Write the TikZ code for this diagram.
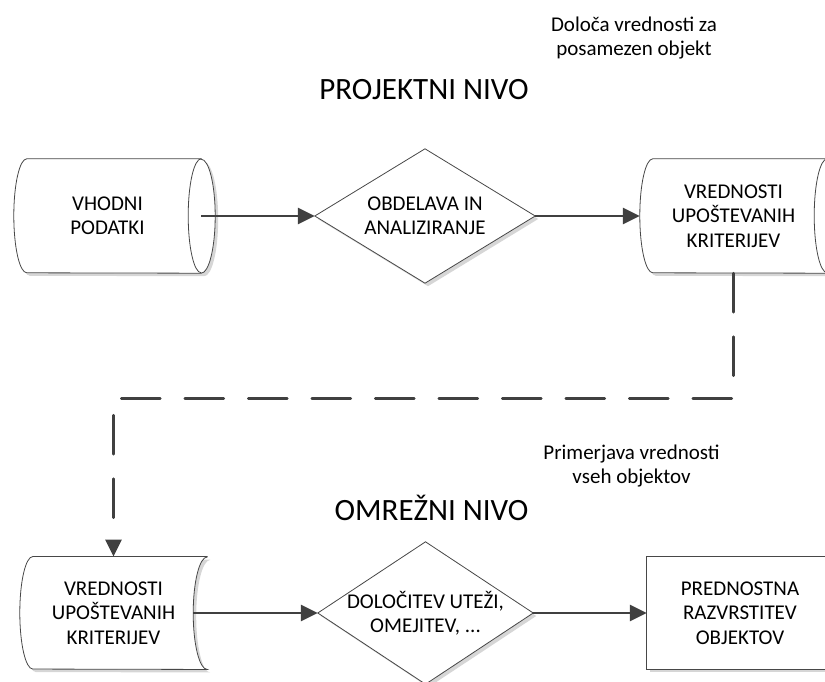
\documentclass[tikz,border=0pt]{standalone}
\usepackage{fontspec}
\setmainfont{Carlito}
\usetikzlibrary{arrows.meta,calc}
\pgfdeclarelayer{bg}
\pgfsetlayers{bg,main}

% outline of a horizontal drum (direct access storage)
\newcommand\drumoutline[1]{(#1.north east) -- ([xshift=13pt]#1.north west)
  arc[start angle=90,end angle=270,x radius=13pt,y radius=57pt]
  -- (#1.south east)
  arc[start angle=-90,end angle=90,x radius=14pt,y radius=57pt] -- cycle}
% inner rim of the drum's right end
\newcommand\drumrim[1]{(#1.north east)
  arc[start angle=90,end angle=270,x radius=13pt,y radius=57pt]}
% outline of a stored-data block
\newcommand\storedoutline[1]{(#1.north east) -- ([xshift=13pt]#1.north west)
  arc[start angle=90,end angle=270,x radius=13pt,y radius=56.25pt]
  -- (#1.south east)
  arc[start angle=270,end angle=90,x radius=14pt,y radius=56.25pt] -- cycle}
% outline of a decision diamond
\newcommand\diamondoutline[1]{(#1.west) -- (#1.north) -- (#1.east) -- (#1.south) -- cycle}

\tikzset{
  boxtext/.style={draw=none, inner sep=0pt, align=center,
    font=\fontsize{21pt}{24.5pt}\selectfont, text=black},
  drumnode/.style={boxtext, minimum width=187pt, minimum height=114pt},
  shapeline/.style={draw=black!72, line width=0.8pt, fill=white},
  shadowfill/.style={fill=black!16, draw=none,
    transform canvas={xshift=3pt, yshift=-3pt}},
  flowarrow/.style={draw=black!75, line width=2.6pt,
    -{Triangle[length=17pt,width=16pt]}},
  linkdash/.style={flowarrow, line cap=round, dash pattern=on 39pt off 24.5pt},
  notetext/.style={align=center, inner sep=0pt,
    font=\fontsize{21pt}{23.5pt}\selectfont},
  titletext/.style={inner sep=0pt, anchor=base,
    font=\fontsize{31pt}{36pt}\selectfont},
}

\begin{document}
\begin{tikzpicture}[x=1pt,y=-1pt]
\useasboundingbox (0,0) rectangle (825,682);
\clip (0,0) rectangle (825,682);

% headings and remarks
\node[notetext] (noteA) at (634,38) {Določa vrednosti za\\posamezen objekt};
\node[titletext] (projekt) at (424,100) {PROJEKTNI NIVO};
\node[notetext] (noteB) at (631.5,466) {Primerjava vrednosti\\vseh objektov};
\node[titletext] (omrezje) at (431.5,520) {OMREŽNI NIVO};

% project level
\node[drumnode] (vin) at (107.5,216) {VHODNI\\PODATKI};
\node[boxtext, minimum width=220pt, minimum height=134pt] (d1) at (425,216)
  {OBDELAVA IN\\ANALIZIRANJE};
\node[drumnode] (kr1) at (733.5,216) {VREDNOSTI\\UPOŠTEVANIH\\KRITERIJEV};

% network level
\node[boxtext, minimum width=187pt, minimum height=112.5pt] (kr2) at (113.5,613)
  {VREDNOSTI\\UPOŠTEVANIH\\KRITERIJEV};
\node[boxtext, minimum width=215pt, minimum height=142pt] (d2) at (425.5,613)
  {DOLOČITEV UTEŽI,\\OMEJITEV, ...};
\node[boxtext, minimum width=186pt, minimum height=112pt] (rank) at (740,613)
  {PREDNOSTNA\\RAZVRSTITEV\\OBJEKTOV};

% shapes behind the labels
\begin{pgfonlayer}{bg}
  \fill[shadowfill] \drumoutline{vin};
  \fill[shadowfill] \diamondoutline{d1};
  \fill[shadowfill] \drumoutline{kr1};
  \fill[shadowfill] \storedoutline{kr2};
  \fill[shadowfill] \diamondoutline{d2};
  \fill[shadowfill] (rank.north west) rectangle (rank.south east);

  \path[shapeline] \drumoutline{vin};
  \draw[draw=black!72, line width=0.8pt] \drumrim{vin};
  \path[shapeline] \diamondoutline{d1};
  \path[shapeline] \drumoutline{kr1};
  \draw[draw=black!72, line width=0.8pt] \drumrim{kr1};
  \path[shapeline] \storedoutline{kr2};
  \path[shapeline] \diamondoutline{d2};
  \path[shapeline] (rank.north west) rectangle (rank.south east);
\end{pgfonlayer}

% connectors
\coordinate (kr2out) at ([xshift=-14pt]kr2.east);
\coordinate (bend) at (420,398.5);
\draw[flowarrow] (vin.east) -- (d1.west);
\draw[flowarrow] (d1.east) -- (kr1.west);
\draw[linkdash] (kr1.south) -- (kr1.south |- bend) -- (kr2.north |- bend) -- (kr2.north);
\draw[flowarrow] (kr2out) -- (d2.west);
\draw[flowarrow] (d2.east) -- (rank.west);
\end{tikzpicture}
\end{document}
